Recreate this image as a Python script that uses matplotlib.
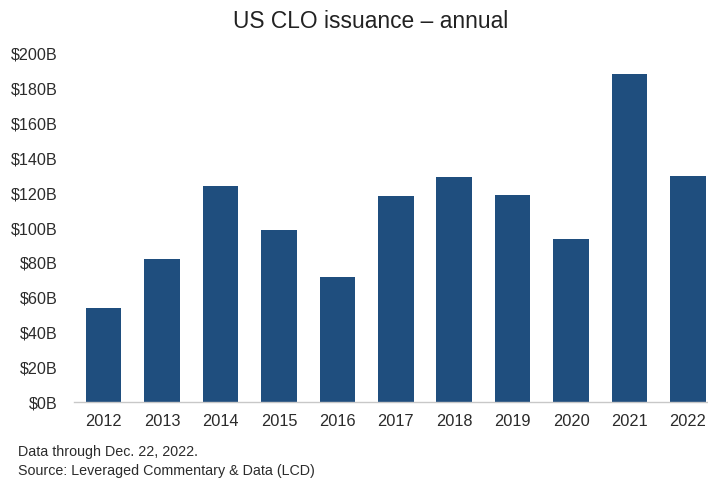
import matplotlib
matplotlib.use("Agg")
import matplotlib.pyplot as plt
from matplotlib.ticker import FuncFormatter

years = ["2012", "2013", "2014", "2015", "2016", "2017", "2018", "2019", "2020", "2021", "2022"]
issuance = [54.0, 82.2, 124.2, 98.9, 72.1, 118.3, 129.0, 118.7, 93.5, 188.1, 129.6]
yticks = [0, 20, 40, 60, 80, 100, 120, 140, 160, 180, 200]

title = "US CLO issuance \u2013 annual"
note1 = "Data through Dec. 22, 2022."
note2 = "Source: Leveraged Commentary & Data (LCD)"

plt.rcParams['font.family'] = ['Liberation Sans', 'DejaVu Sans']

fig = plt.figure(figsize=(7.08, 4.92), dpi=100)
ax = fig.add_axes([0.105, 0.182, 0.908, 0.709])

x = list(range(len(years)))
ax.bar(x, issuance, width=0.61, color="#1f4e7e", zorder=2)
ax.set_xlim(-0.5, len(years) - 0.5)
ax.set_ylim(0, 200)
ax.set_yticks(yticks)
ax.yaxis.set_major_formatter(FuncFormatter(lambda v, p: f"${int(v)}B"))
ax.set_xticks(x)
ax.set_xticklabels(years)

for s in ["top", "right", "left"]:
    ax.spines[s].set_visible(False)
ax.spines["bottom"].set_color("#c8c8c8")
ax.spines["bottom"].set_linewidth(1.0)
ax.tick_params(axis="y", length=0, labelsize=11.6, colors="#2b2b2b", pad=12.2)
ax.tick_params(axis="x", length=0, labelsize=11.8, colors="#2b2b2b", pad=8)

fig.text(0.523, 0.956, title, ha="center", va="center", fontsize=16.4, color="#222222")
fig.text(0.025, 0.081, note1, ha="left", va="center", fontsize=10.3, color="#2b2b2b")
fig.text(0.025, 0.042, note2, ha="left", va="center", fontsize=10.3, color="#2b2b2b")

fig.savefig("out.png", dpi=100)
